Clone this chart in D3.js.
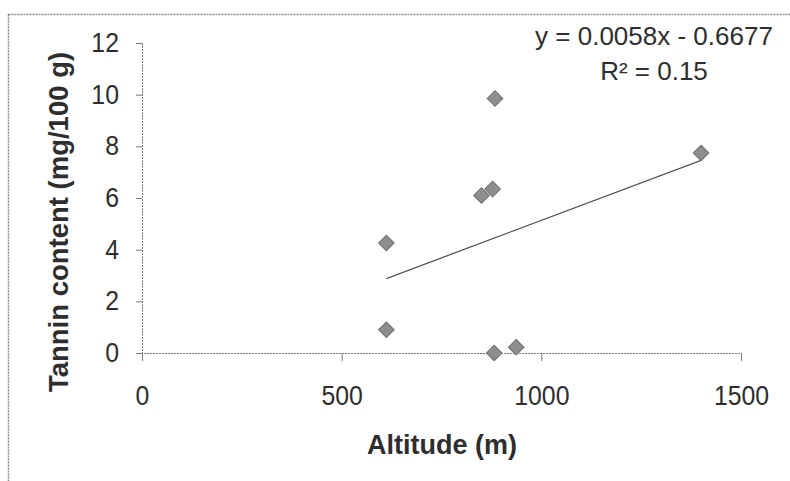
<!DOCTYPE html>
<html>
<head>
<meta charset="utf-8">
<script src="https://cdn.jsdelivr.net/npm/d3@7"></script>
<style>
  html, body { margin: 0; padding: 0; background: #fff; }
  svg { display: block; font-family: "Liberation Sans", Arial, sans-serif; }
</style>
</head>
<body>
<svg id="chart" width="790" height="481"></svg>
<script>
// ---- data ----
const altitude = [612, 612, 850, 878, 884, 882, 937, 1400];
const tannin   = [4.26, 0.9, 6.1, 6.35, 9.85, 0.0, 0.22, 7.74];
const xTicks = [0, 500, 1000, 1500];
const yTicks = [0, 2, 4, 6, 8, 10, 12];
const slope = 0.0058, intercept = -0.6677;
const equationText = "y = 0.0058x - 0.6677";
const r2Text = "R² = 0.15";
const xTitle = "Altitude (m)";
const yTitle = "Tannin content (mg/100 g)";

// ---- layout ----
const svg = d3.select("#chart");
const x = d3.scaleLinear().domain([0, 1500]).range([142, 741]);
const y = d3.scaleLinear().domain([0, 12]).range([353, 43]);
const axisColor = "#7a7a7a";
const textColor = "#2e2e2e";

// outer frame (only top & left visible)
svg.append("rect")
  .attr("x", 8.5).attr("y", 14.5).attr("width", 800).attr("height", 500)
  .attr("fill", "none").attr("stroke", "#8a8a8a").attr("stroke-width", 1.5)
  .attr("stroke-dasharray", "2,1");

// y axis
const yAxis = d3.axisLeft(y).tickValues(yTicks).tickSize(6).tickPadding(19)
  .tickFormat(d3.format("d"));
const gy = svg.append("g").attr("transform", `translate(${x(0)},0)`).call(yAxis);
gy.select(".domain").attr("stroke", axisColor).attr("stroke-dasharray", "2,1");
gy.selectAll(".tick line").attr("stroke", axisColor);
gy.selectAll(".tick text").attr("font-size", 27).attr("fill", textColor)
  .attr("font-family", "Liberation Sans, Arial, sans-serif")
  .attr("transform", "scale(0.92,1)");

// x axis
const xAxis = d3.axisBottom(x).tickValues(xTicks).tickSize(8).tickPadding(25)
  .tickFormat(d3.format("d"));
const gx = svg.append("g").attr("transform", `translate(0,${y(0)})`).call(xAxis);
gx.select(".domain").attr("stroke", axisColor).attr("stroke-dasharray", "2,1");
gx.selectAll(".tick line").attr("stroke", axisColor);
gx.selectAll(".tick text").attr("font-size", 27).attr("fill", textColor)
  .attr("font-family", "Liberation Sans, Arial, sans-serif")
  .attr("transform", "scale(0.92,1)");

// trend line
const xs = d3.extent(altitude);
svg.append("line")
  .attr("x1", x(xs[0])).attr("y1", y(slope * xs[0] + intercept))
  .attr("x2", x(xs[1])).attr("y2", y(slope * xs[1] + intercept))
  .attr("stroke", "#555").attr("stroke-width", 1.3);

// points (diamonds)
const pts = altitude.map((a, i) => ({a, t: tannin[i]}));
svg.append("g").selectAll("rect").data(pts).join("rect")
  .attr("x", -5.5).attr("y", -5.5).attr("width", 11).attr("height", 11)
  .attr("transform", d => `translate(${x(d.a)},${y(d.t)}) rotate(45)`)
  .attr("fill", "#8e8e8e").attr("stroke", "#6e6e6e").attr("stroke-width", 1);

// equation
svg.append("text").attr("x", 654).attr("y", 45).attr("text-anchor", "middle")
  .attr("font-size", 26).attr("fill", textColor).text(equationText);
svg.append("text").attr("x", 654).attr("y", 80).attr("text-anchor", "middle")
  .attr("font-size", 26).attr("fill", textColor).text(r2Text);

// axis titles
svg.append("text").attr("x", 442).attr("y", 454).attr("text-anchor", "middle")
  .attr("font-size", 27).attr("font-weight", "bold").attr("fill", textColor).text(xTitle);
svg.append("text").attr("transform", "translate(68,222) rotate(-90)")
  .attr("text-anchor", "middle")
  .attr("font-size", 27.5).attr("font-weight", "bold").attr("fill", textColor).text(yTitle);
</script>
</body>
</html>
